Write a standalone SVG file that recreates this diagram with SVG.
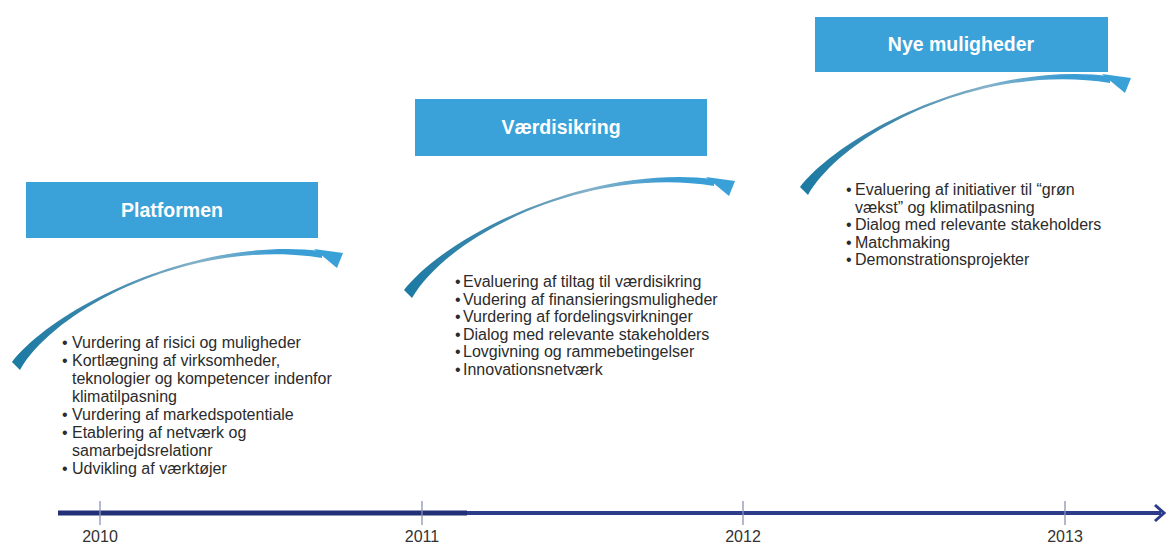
<svg xmlns="http://www.w3.org/2000/svg" xmlns:xlink="http://www.w3.org/1999/xlink" width="1166" height="548" viewBox="0 0 1166 548">
  <style>
    .box { fill: #3ba1d9; }
    .title { font-family: "Liberation Sans", Arial, sans-serif; font-weight: bold; font-size: 19.5px; fill: #ffffff; text-anchor: middle; }
    .body { font-family: "Liberation Sans", Arial, sans-serif; font-size: 16px; fill: #2b2b2b; }
    .year { font-family: "Liberation Sans", Arial, sans-serif; font-size: 16px; fill: #333333; text-anchor: middle; }
    .tick { stroke: #8a93b3; stroke-width: 1.3; }
    .axis { stroke: #2c3b8a; stroke-width: 4; fill: none; }
  </style>
  <defs>
    <linearGradient id="swooshGrad" x1="0" y1="0" x2="1" y2="0">
      <stop offset="0" stop-color="#1b7aa3"/>
      <stop offset="0.3" stop-color="#3f88ad"/>
      <stop offset="0.6" stop-color="#86b2c9"/>
      <stop offset="0.85" stop-color="#3a9cd3"/>
      <stop offset="1" stop-color="#3aa0d8"/>
    </linearGradient>
    <g id="swoosh">
      <path d="M12,362 C56,306 198,236 322,251 L322,258 C197,237.5 58,305 20,370 Z" fill="url(#swooshGrad)"/>
      <path d="M314,249 L343,253 L337,268 Z" fill="#3aa0d8"/>
    </g>
  </defs>
  <rect width="1166" height="548" fill="#ffffff"/>

  <g id="node-platformen">
    <rect class="box" x="26" y="182" width="292" height="56"/>
    <text class="title" x="172" y="217">Platformen</text>
  </g>
  <g id="node-vaerdisikring">
    <rect class="box" x="415" y="99" width="292" height="57"/>
    <text class="title" x="561" y="134">Værdisikring</text>
  </g>
  <g id="node-nye-muligheder">
    <rect class="box" x="815" y="17" width="293" height="55"/>
    <text class="title" x="961" y="51">Nye muligheder</text>
  </g>

  <g id="list-platformen" class="body">
    <text x="62" y="348">•</text><text x="72" y="348">Vurdering af risici og muligheder</text>
    <text x="62" y="366">•</text><text x="72" y="366">Kortlægning af virksomheder,</text>
    <text x="72" y="384">teknologier og kompetencer indenfor</text>
    <text x="72" y="402">klimatilpasning</text>
    <text x="62" y="420">•</text><text x="72" y="420">Vurdering af markedspotentiale</text>
    <text x="62" y="438">•</text><text x="72" y="438">Etablering af netværk og</text>
    <text x="72" y="456">samarbejdsrelationr</text>
    <text x="62" y="474">•</text><text x="72" y="474">Udvikling af værktøjer</text>
  </g>
  <g id="list-vaerdisikring" class="body">
    <text x="455" y="287">•</text><text x="463" y="287">Evaluering af tiltag til værdisikring</text>
    <text x="455" y="304.5">•</text><text x="463" y="304.5">Vudering af finansieringsmuligheder</text>
    <text x="455" y="322">•</text><text x="463" y="322">Vurdering af fordelingsvirkninger</text>
    <text x="455" y="339.5">•</text><text x="463" y="339.5">Dialog med relevante stakeholders</text>
    <text x="455" y="357">•</text><text x="463" y="357">Lovgivning og rammebetingelser</text>
    <text x="455" y="374.5">•</text><text x="463" y="374.5">Innovationsnetværk</text>
  </g>
  <g id="list-nye-muligheder" class="body">
    <text x="846" y="195">•</text><text x="855" y="195">Evaluering af initiativer til “grøn</text>
    <text x="855" y="212.5">vækst” og klimatilpasning</text>
    <text x="846" y="230">•</text><text x="855" y="230">Dialog med relevante stakeholders</text>
    <text x="846" y="247.5">•</text><text x="855" y="247.5">Matchmaking</text>
    <text x="846" y="265">•</text><text x="855" y="265">Demonstrationsprojekter</text>
  </g>

  <g id="connectors">
    <use xlink:href="#swoosh" href="#swoosh"/>
    <use xlink:href="#swoosh" href="#swoosh" transform="translate(392,-72)"/>
    <use xlink:href="#swoosh" href="#swoosh" transform="translate(788,-175)"/>
  </g>

  <g id="timeline">
    <line class="axis" x1="58" y1="513" x2="1161" y2="513"/>
    <line x1="58" y1="513" x2="467" y2="513" stroke="#223077" stroke-width="5"/>
    <path d="M1155,505 L1164,513 L1155,521" fill="none" stroke="#2c3b8a" stroke-width="3"/>
    <line class="tick" x1="100" y1="501" x2="100" y2="525"/>
    <line class="tick" x1="422" y1="501" x2="422" y2="525"/>
    <line class="tick" x1="743" y1="501" x2="743" y2="525"/>
    <line class="tick" x1="1065" y1="501" x2="1065" y2="525"/>
    <text class="year" x="100" y="542">2010</text>
    <text class="year" x="422" y="542">2011</text>
    <text class="year" x="743" y="542">2012</text>
    <text class="year" x="1065" y="542">2013</text>
  </g>
</svg>
